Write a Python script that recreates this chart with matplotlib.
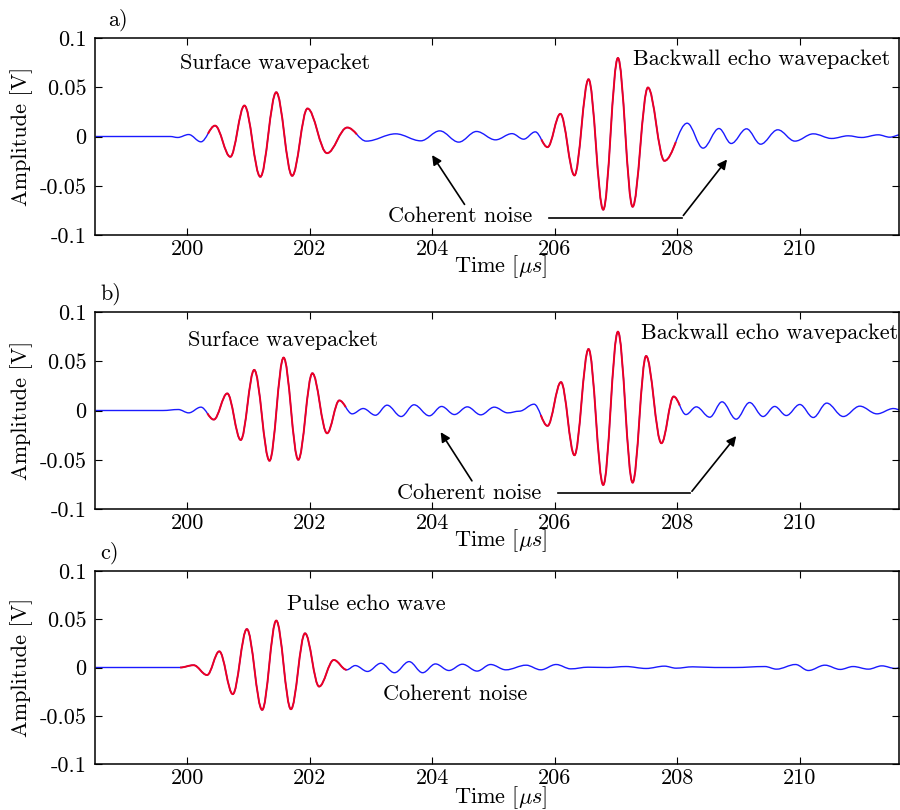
import matplotlib
matplotlib.use("Agg")
import matplotlib.pyplot as plt
from matplotlib.path import Path
from matplotlib.patches import PathPatch

plt.rcParams['font.family'] = 'serif'
plt.rcParams['font.serif'] = ['cmr10']
plt.rcParams['mathtext.fontset'] = 'cm'
plt.rcParams['axes.unicode_minus'] = False
plt.rcParams['font.size'] = 16

# extrema of each trace (time in us, amplitude in V)
a_t = [198.5, 199.72, 199.84, 200.02, 200.22, 200.45, 200.70, 200.93, 201.19, 201.45,
       201.71, 201.96, 202.28, 202.61, 202.92, 203.40, 203.81, 204.12, 204.43, 204.72,
       205.03, 205.30, 205.49, 205.68, 205.88, 206.09, 206.32, 206.55, 206.79, 207.03,
       207.27, 207.52, 207.79, 208.16, 208.42, 208.68, 208.88, 209.13, 209.36, 209.64,
       209.92, 210.22, 210.52, 210.79, 211.01, 211.28, 211.47, 211.66]
a_amp = [0, 0, -0.001, 0.002, -0.0054, 0.011, -0.0206, 0.0314, -0.0409, 0.0449,
         -0.0399, 0.0284, -0.0169, 0.0091, -0.0047, 0.0027, -0.0044, 0.0057, -0.0057, 0.0051,
         -0.0034, 0.0029, -0.0027, 0.0047, -0.0108, 0.023, -0.0395, 0.0581, -0.0743, 0.0797,
         -0.0713, 0.0497, -0.0247, 0.0135, -0.0118, 0.0081, -0.0071, 0.0078, -0.0078, 0.0068,
         -0.0047, 0.0027, -0.002, 0.0007, -0.001, 0.0017, -0.0007, 0.002]
a_red = [(5, 13, True, True), (24, 32, True, True)]

b_t = [198.5, 199.6, 199.85, 200.02, 200.22, 200.43, 200.65, 200.87, 201.09, 201.34,
       201.57, 201.81, 202.04, 202.28, 202.48, 202.69, 202.87, 203.07, 203.26, 203.49,
       203.70, 203.95, 204.15, 204.36, 204.57, 204.79, 205.01, 205.23, 205.42, 205.66,
       205.88, 206.10, 206.32, 206.55, 206.79, 207.03, 207.27, 207.49, 207.74, 207.94,
       208.14, 208.31, 208.53, 208.73, 208.96, 209.18, 209.40, 209.59, 209.78, 210.00,
       210.22, 210.44, 210.71, 210.98, 211.26, 211.53, 211.66]
b_amp = [0, 0, 0.001, -0.0024, 0.0034, -0.0092, 0.0173, -0.0299, 0.0412, -0.051,
         0.0537, -0.05, 0.0378, -0.0231, 0.0102, -0.0034, 0.002, -0.0048, 0.0054, -0.0061,
         0.0058, -0.0054, 0.0041, -0.0041, 0.0037, -0.0044, 0.0034, -0.0024, -0.0007, 0.0064,
         -0.0156, 0.0288, -0.0454, 0.0624, -0.0756, 0.08, -0.0732, 0.0553, -0.0332, 0.0142,
         -0.0041, 0.0037, -0.0068, 0.0088, -0.0088, 0.0081, -0.0061, 0.0041, -0.0051, 0.0061,
         -0.0071, 0.0075, -0.0061, 0.0044, -0.0034, 0.002, 0.0003]
b_red = [(5, 14, True, True), (30, 39, True, True)]

c_t = [198.5, 199.88, 200.10, 200.32, 200.52, 200.74, 200.97, 201.22, 201.45, 201.69,
       201.92, 202.15, 202.39, 202.60, 202.74, 202.94, 203.16, 203.38, 203.62, 203.84,
       204.05, 204.27, 204.49, 204.73, 204.95, 205.20, 205.53, 205.77, 206.02, 206.26,
       206.54, 206.86, 207.16, 207.49, 207.79, 207.98, 208.25, 208.61, 208.94, 209.43,
       209.62, 209.93, 210.14, 210.41, 210.66, 210.87, 211.12, 211.34, 211.56, 211.66]
c_amp = [0, 0, 0.0024, -0.0078, 0.0167, -0.0276, 0.0398, -0.0439, 0.0486, -0.0432,
         0.0354, -0.0197, 0.0078, -0.0024, 0.002, -0.0041, 0.0044, -0.0054, 0.0061, -0.0054,
         0.0037, -0.0031, 0.0034, -0.0037, 0.0031, -0.0024, 0.0024, -0.0024, 0.0031, -0.0014,
         0.0003, 0, 0.001, -0.001, 0.0014, -0.0007, 0.0007, 0, 0, 0.001,
         -0.0017, 0.0031, -0.0031, 0.0024, -0.002, 0.001, -0.0017, 0.0017, -0.001, 0]
c_red = [(1, 13, False, False)]

x_ticks = [200, 202, 204, 206, 208, 210]
y_ticks = [0.1, 0.05, 0, -0.05, -0.1]
y_ticklabels = ['0.1', '0.05', '0', '-0.05', '-0.1']

K = 0.36  # bezier handle length, gives a cosine-like half wave between extrema


def segment(t, y, i):
    dx = t[i + 1] - t[i]
    return [(t[i], y[i]), (t[i] + K * dx, y[i]), (t[i + 1] - K * dx, y[i + 1]), (t[i + 1], y[i + 1])]


def split(p, s=0.5):
    lerp = lambda a, b: (a[0] + (b[0] - a[0]) * s, a[1] + (b[1] - a[1]) * s)
    p01, p12, p23 = lerp(p[0], p[1]), lerp(p[1], p[2]), lerp(p[2], p[3])
    p012, p123 = lerp(p01, p12), lerp(p12, p23)
    m = lerp(p012, p123)
    return [p[0], p01, p012, m], [m, p123, p23, p[3]]


def wave(t, y, i0=0, i1=None, half_start=False, half_end=False):
    if i1 is None:
        i1 = len(t) - 1
    segs = [segment(t, y, i) for i in range(i0, i1)]
    if half_start:
        segs.insert(0, split(segment(t, y, i0 - 1))[1])
    if half_end:
        segs.append(split(segment(t, y, i1))[0])
    verts = [segs[0][0]]
    codes = [Path.MOVETO]
    for s in segs:
        verts += s[1:]
        codes += [Path.CURVE4] * 3
    return Path(verts, codes)


fig = plt.figure(figsize=(9, 8.1), dpi=100)
boxes = [[95 / 900, 1 - 235 / 810, 804 / 900, 197 / 810],
         [95 / 900, 1 - 509 / 810, 804 / 900, 197 / 810],
         [95 / 900, 1 - 764 / 810, 804 / 900, 193 / 810]]
label_y = [-32 / 197, -32 / 197, -34 / 193]
panels = [(a_t, a_amp, a_red), (b_t, b_amp, b_red), (c_t, c_amp, c_red)]
axes = []
for box, ly, (t, y, reds) in zip(boxes, label_y, panels):
    ax = fig.add_axes(box)
    ax.add_patch(PathPatch(wave(t, y), fill=False, edgecolor='#1a1aff', lw=1.0))
    for i0, i1, hs, he in reds:
        ax.add_patch(PathPatch(wave(t, y, i0, i1, hs, he), fill=False,
                               edgecolor='#ee0022', lw=1.4))
    ax.set_xlim(198.49, 211.62)
    ax.set_ylim(-0.1, 0.1)
    ax.set_xticks(x_ticks)
    ax.set_yticks(y_ticks)
    ax.set_yticklabels(y_ticklabels)
    ax.tick_params(direction='in', top=True, right=True, length=5, width=0.8)
    ax.tick_params(axis='x', pad=3)
    ax.tick_params(axis='y', pad=6)
    for sp in ax.spines.values():
        sp.set_linewidth(1.1)
    ax.set_xlabel(r'Time [$\mu s$]', va='center')
    ax.xaxis.set_label_coords(0.504, ly)
    ax.set_ylabel('Amplitude [V]', va='center')
    ax.yaxis.set_label_coords(-73 / 804, 0.5)
    axes.append(ax)

fig.text(108 / 900, 1 - 20 / 810, 'a)', va='center')
fig.text(100 / 900, 1 - 294 / 810, 'b)', va='center')
fig.text(100 / 900, 1 - 553 / 810, 'c)', va='center')

arrow = dict(arrowstyle='-|>', color='black', lw=1.2, mutation_scale=14)

ax = axes[0]
ax.text(199.88, 0.0746, 'Surface wavepacket', va='center')
ax.text(207.28, 0.0787, 'Backwall echo wavepacket', va='center')
ax.text(203.27, -0.0807, 'Coherent noise', va='center')
ax.annotate('', xy=(203.97, -0.0165), xytext=(204.55, -0.0713), arrowprops=arrow)
ax.plot([205.91, 208.07], [-0.0824, -0.0824], color='black', lw=1.2)
ax.annotate('', xy=(208.84, -0.0211), xytext=(208.07, -0.0824), arrowprops=arrow)

ax = axes[1]
ax.text(200.01, 0.071, 'Surface wavepacket', va='center')
ax.text(207.41, 0.078, 'Backwall echo wavepacket', va='center')
ax.text(203.42, -0.0843, 'Coherent noise', va='center')
ax.annotate('', xy=(204.11, -0.0196), xytext=(204.67, -0.0738), arrowprops=arrow)
ax.plot([206.05, 208.21], [-0.0842, -0.0842], color='black', lw=1.2)
ax.annotate('', xy=(208.99, -0.0237), xytext=(208.21, -0.0842), arrowprops=arrow)

ax = axes[2]
ax.text(201.63, 0.0657, 'Pulse echo wave', va='center')
ax.text(203.20, -0.0278, 'Coherent noise', va='center')

fig.savefig('out.png', dpi=100)
